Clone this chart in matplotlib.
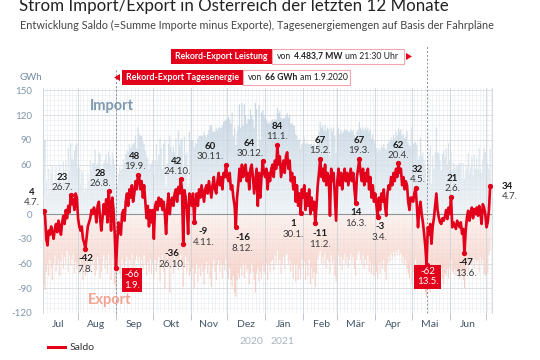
import numpy as np
import pandas as pd
import matplotlib
matplotlib.use("Agg")
import matplotlib.pyplot as plt
import matplotlib.dates as mdates
import matplotlib.transforms as mtransforms
from matplotlib.patches import Rectangle, Polygon, PathPatch
from matplotlib.path import Path
from matplotlib.lines import Line2D
from matplotlib.colors import LinearSegmentedColormap

plt.rcParams['font.family'] = ['Lato', 'DejaVu Sans']

# daily saldo (import minus export), GWh, 4.7.2020 - 4.7.2021
saldo_jul20 = [4, -2, -30, -38, -20, -25, -15, -22, -30, -18, -12, -22, -8, -15,
               -25, -10, -2, -12, 5, -5, 10, 2, 23, 12, 18, 5, 25, 20]
saldo_aug20 = [-5, -15, -20, -15, -30, -35, -42, -28, -15, -10, -5, 5, 0, 8, 3, -10,
               10, 15, -5, -20, -5, 12, 0, 18, -10, 28, 10, -20, 20, 5, -25]
saldo_sep20 = [-66, -35, -10, -15, -25, 0, 5, -8, 15, 25, 10, 30, 20, 35, 15, 25,
               40, 30, 48, 45, 30, 40, 20, 35, 15, -5, 10, -15, 5, -10]
saldo_okt20 = [5, -30, 10, 15, 5, 20, 10, 18, 5, 15, 0, -24, 10, 25, 0, 15, 20, 10,
               25, 30, 15, 33, 25, 42, 30, -36, 29, 20, 5, -24, 25]
saldo_nov20 = [20, 10, 25, -9, 15, 25, 10, 30, 20, 35, 25, 15, 30, 35, 25, 40, 30,
               20, 35, 45, 30, 25, 40, 50, 35, 45, 30, 50, 45, 60]
saldo_dez20 = [45, 40, 50, 30, 35, 20, 10, -16, 20, 35, 55, 40, 60, 45, 55, 60, 40,
               50, 30, 55, 60, 45, 25, 40, 55, 10, 50, 20, 45, 64, 50]
saldo_jan21 = [45, 55, 30, 50, 40, 55, 60, 45, 65, 55, 84, 60, 70, 45, 55, 65, 50,
               70, 75, 55, 65, 40, 50, 30, 45, 15, 35, 10, 25, 1, 30]
saldo_feb21 = [20, 35, 5, 25, 10, 30, 0, 20, 5, 15, -11, 10, 35, 50, 67, 45, 55, 40,
               60, 35, 50, 45, -2, 55, 40, 50, 20, -8]
saldo_mar21 = [40, 55, 35, 50, 30, 45, 55, 40, 50, 35, 45, 55, 40, 50, 30, 14, 45,
               55, 67, 50, 40, 55, 35, 50, 40, 55, 30, 45, 20, 35, 15]
saldo_apr21 = [25, 10, -3, 20, 5, 25, 15, 30, 10, -2, 25, 35, 30, 45, 35, 50, 40,
               55, 45, 62, 50, 55, 35, 45, 30, 40, 35, 15, 5, 20]
saldo_mai21 = [20, 15, 25, 32, 12, -16, 5, 15, 0, -10, -24, -40, -62, -16, -25, -12,
               -36, -15, -5, 10, 25, 5, -4, -10, -12, -5, -8, -3, 5, -6, 8]
saldo_jun21 = [0, 21, -16, -10, -14, -18, -8, -12, -16, -10, -24, -18, -47, -20, -4,
               4, -8, 2, 8, -5, 6, 0, 8, -2, 10, 2, -12, 12, 8, 0]
saldo_jul21 = [-16, -10, 5, 34]

# daily export, GWh
exp_jul20 = [85, 92, 70, 60, 75, 55, 65, 80, 60, 50, 70, 62, 55, 75, 58, 48, 66, 52,
             60, 45, 70, 50, 63, 55, 48, 72, 58, 66]
exp_aug20 = [60, 72, 55, 68, 80, 62, 75, 58, 65, 50, 70, 48, 62, 55, 75, 68, 52, 60,
             78, 70, 58, 50, 66, 55, 72, 48, 60, 80, 55, 62, 85]
exp_sep20 = [92, 70, 60, 72, 78, 55, 62, 70, 58, 52, 66, 55, 60, 48, 70, 62, 55, 50,
             58, 52, 65, 55, 68, 50, 62, 75, 58, 70, 55, 72]
exp_okt20 = [60, 78, 55, 70, 58, 52, 82, 62, 50, 70, 90, 58, 52, 60, 95, 66, 55, 72,
             50, 62, 55, 68, 58, 48, 62, 88, 65, 52, 70, 58, 75]
exp_nov20 = [70, 80, 65, 90, 72, 60, 82, 65, 75, 60, 70, 85, 66, 58, 72, 62, 78, 88,
             65, 55, 70, 80, 62, 55, 70, 60, 78, 62, 68, 55]
exp_dez20 = [70, 78, 65, 80, 88, 75, 95, 100, 80, 72, 78, 65, 75, 62, 78, 60, 70, 66,
             85, 72, 60, 70, 80, 95, 72, 65, 82, 70, 78, 62, 70]
exp_jan21 = [72, 60, 80, 62, 70, 58, 55, 68, 50, 60, 45, 62, 55, 72, 60, 52, 66, 50,
             48, 62, 55, 70, 60, 78, 62, 82, 60, 80, 66, 78, 55]
exp_feb21 = [66, 58, 80, 62, 75, 55, 85, 65, 78, 70, 88, 72, 55, 50, 45, 60, 52, 62,
             48, 66, 55, 58, 72, 50, 60, 55, 75, 82]
exp_mar21 = [60, 50, 62, 52, 68, 55, 48, 62, 52, 65, 55, 48, 60, 52, 66, 75, 55, 48,
             45, 55, 62, 50, 66, 55, 62, 50, 70, 58, 72, 62, 75]
exp_apr21 = [62, 70, 78, 60, 72, 58, 66, 55, 70, 80, 60, 52, 58, 48, 55, 46, 52, 45,
             50, 42, 50, 48, 60, 52, 62, 55, 66, 72, 78, 62]
exp_mai21 = [85, 70, 62, 55, 72, 82, 65, 78, 70, 85, 90, 95, 100, 88, 80, 95, 72, 85,
             60, 66, 80, 70, 78, 75, 65, 78, 85, 72, 75, 66, 78]
exp_jun21 = [65, 55, 70, 72, 66, 75, 68, 70, 78, 72, 66, 80, 90, 72, 62, 70, 58, 55,
             62, 52, 66, 55, 60, 56, 70, 52, 62, 55, 72, 75]
exp_jul21 = [60, 72, 50, 45]

months = ["Jul", "Aug", "Sep", "Okt", "Nov", "Dez", "Jän", "Feb", "Mär", "Apr", "Mai", "Jun"]
yticks = [-120, -90, -60, -30, 0, 30, 60, 90, 120, 150]
ytick_labels = ["-120", "-90", "-60", "-30", "0", "", "60", "90", "120", "150"]

# labelled extremes
ann_dates = ["2020-07-04", "2020-07-26", "2020-08-07", "2020-08-26", "2020-09-19",
             "2020-10-24", "2020-10-26", "2020-11-04", "2020-11-30", "2020-12-08",
             "2020-12-30", "2021-01-11", "2021-01-30", "2021-02-11", "2021-02-15",
             "2021-03-16", "2021-03-19", "2021-04-03", "2021-04-20", "2021-05-04",
             "2021-06-02", "2021-06-13", "2021-07-04"]
ann_text = ["4.7.", "26.7.", "7.8.", "26.8.", "19.9.", "24.10.", "26.10.", "4.11.",
            "30.11.", "8.12.", "30.12.", "11.1.", "30.1.", "11.2.", "15.2.", "16.3.",
            "19.3.", "3.4.", "20.4.", "4.5.", "2.6.", "13.6.", "4.7."]
rec_dates = ["2020-09-01", "2021-05-13"]
rec_text = ["1.9.", "13.5."]

saldo = np.array(saldo_jul20 + saldo_aug20 + saldo_sep20 + saldo_okt20 + saldo_nov20
                 + saldo_dez20 + saldo_jan21 + saldo_feb21 + saldo_mar21 + saldo_apr21
                 + saldo_mai21 + saldo_jun21 + saldo_jul21, float)
export = np.array(exp_jul20 + exp_aug20 + exp_sep20 + exp_okt20 + exp_nov20 + exp_dez20
                  + exp_jan21 + exp_feb21 + exp_mar21 + exp_apr21 + exp_mai21 + exp_jun21
                  + exp_jul21, float)
imports = saldo + export
days = pd.date_range("2020-07-04", "2021-07-04", freq="D")
x = mdates.date2num(days)
val = pd.Series(saldo, index=days)

RED = "#e2001a"
W, H = 540, 360


def fx(px):
    return px / W


def fy(py):
    return 1 - py / H


fig = plt.figure(figsize=(5.4, 3.6), dpi=100)
ax = fig.add_axes([fx(43), fy(313), 449 / W, 225 / H])
x0 = mdates.date2num(pd.Timestamp("2020-07-03 08:00"))
x1 = mdates.date2num(pd.Timestamp("2021-07-05 12:00"))
renderer = fig.canvas.get_renderer()


def gradient_bars(heights, c_base, c_tip, lim):
    verts = []
    for xi, h in zip(x, heights):
        verts.append(Path([(xi - 0.45, 0), (xi + 0.45, 0), (xi + 0.45, h),
                           (xi - 0.45, h), (xi - 0.45, 0)], closed=True))
    patch = PathPatch(Path.make_compound_path(*verts), transform=ax.transData,
                      fc="none", ec="none")
    ax.add_patch(patch)
    cmap = LinearSegmentedColormap.from_list("g", [c_base, c_tip])
    grad = np.linspace(0, 1, 256).reshape(-1, 1)
    if lim < 0:
        grad = grad[::-1]
    im = ax.imshow(grad, extent=[x0, x1, min(0, lim), max(0, lim)], origin="lower",
                   aspect="auto", cmap=cmap, zorder=1, alpha=0.85, interpolation="bilinear")
    im.set_clip_path(patch)


gradient_bars(imports, "#edf2f6", "#b4c8da", 150)
gradient_bars(-export, "#fcefeb", "#f3b9ab", -110)

# fine grid
for v in np.arange(-120, 153, 6):
    ax.axhline(v, color="#eceef1", lw=0.5, zorder=0)
for v in yticks:
    ax.axhline(v, color="#d9dde2", lw=0.6, zorder=0.2)
for d in np.arange(x0, x1, 3):
    ax.axvline(d, color="#eceef1", lw=0.5, zorder=0)
month_starts = pd.date_range("2020-08-01", "2021-07-01", freq="MS")
for m in month_starts:
    ax.axvline(mdates.date2num(m), color="#cdd3d9", lw=0.6, zorder=1.5)
ax.axhline(0, color="#8d949b", lw=0.8, zorder=3)

ax.plot(x, saldo, color=RED, lw=1.9, zorder=4, solid_joinstyle="round")

ax.set_xlim(x0, x1)
ax.set_ylim(-120, 153)
ax.set_yticks(yticks)
ax.set_yticklabels(ytick_labels)
ax.tick_params(axis="y", length=0, labelsize=7, labelcolor="#8196ab", pad=8)
ax.set_xticks(mdates.date2num(month_starts))
ax.tick_params(axis="x", which="major", length=5, width=0.6, color="#b3bac2",
               labelbottom=False)
mids = pd.date_range("2020-07-01", "2021-06-01", freq="MS") + pd.Timedelta(days=15)
ax.set_xticks(mdates.date2num(mids), minor=True)
ax.set_xticklabels(months, minor=True)
ax.tick_params(axis="x", which="minor", length=0, labelsize=7.5, labelcolor="#44566a", pad=5)
for s in ["top", "bottom"]:
    ax.spines[s].set_visible(False)
for s in ["left", "right"]:
    ax.spines[s].set_color("#d0d5da")
    ax.spines[s].set_linewidth(0.6)

# annotations: (dx px, side)
ann_style = [(-12, "up"), (-8, "up"), (0, "dn"), (-8, "up"), (-3, "up"), (-4, "up"),
             (-11, "dn"), (9, "dn"), (-16, "up"), (7, "dn"), (-13, "up"), (0, "up"),
             (-7, "dn"), (5, "dn"), (0, "up"), (0, "dn"), (0, "up"), (2, "dn"),
             (0, "up"), (2, "up"), (1, "up"), (1, "dn"), (12, "rt")]
for d, lab, (dx, side) in zip(ann_dates, ann_text, ann_style):
    t = pd.Timestamp(d)
    xv, yv = mdates.date2num(t), val[t]
    ax.plot(xv, yv, "o", color=RED, ms=2.8, zorder=5)
    if side == "up":
        dv, dd = 18, 8
    elif side == "dn":
        dv, dd = -10, -21
    else:
        dv, dd = 0, -10
    ha = "left" if side == "rt" else "center"
    ax.annotate("%d" % yv, (xv, yv), xytext=(dx, dv), textcoords="offset pixels",
                ha=ha, va="center", fontsize=7, fontweight="bold", color="#1a1a1a",
                annotation_clip=False, zorder=6)
    ax.annotate(lab, (xv, yv), xytext=(dx, dd), textcoords="offset pixels",
                ha=ha, va="center", fontsize=7, color="#3a3a3a",
                annotation_clip=False, zorder=6)

for d, lab, dx in zip(rec_dates, rec_text, [16, 1]):
    t = pd.Timestamp(d)
    xv, yv = mdates.date2num(t), val[t]
    ax.plot(xv, yv, "o", color=RED, ms=2.8, zorder=5)
    ax.annotate("%d\n%s" % (yv, lab), (xv, yv), xytext=(dx, -2), textcoords="offset pixels",
                ha="center", va="top", fontsize=7, color="white", linespacing=1.15,
                bbox=dict(boxstyle="square,pad=0.25", fc=RED, ec="none"), zorder=6)

# dashed record markers
trans = mtransforms.blended_transform_factory(ax.transData, ax.transAxes)
for d, top in zip(rec_dates, [(313 - 69) / 225, (313 - 46) / 225]):
    xv = mdates.date2num(pd.Timestamp(d))
    ax.plot([xv, xv], [0, top], transform=trans, clip_on=False, color="#8a9096",
            lw=0.7, ls=(0, (2, 2)), zorder=2)


def fitted_text(px, py, s, width, **kw):
    t = fig.text(fx(px), fy(py), s, fontsize=10, **kw)
    t.set_fontsize(10 * width / t.get_window_extent(renderer).width)
    return t


def rich(px, py, parts, width):
    gap = 2.5
    size = 10
    total = 0
    for s, w in parts:
        t = fig.text(0, 0, s, fontsize=size, fontweight=w)
        total += t.get_window_extent(renderer).width
        t.remove()
    size = size * (width - gap * (len(parts) - 1)) / total
    for s, w in parts:
        t = fig.text(fx(px), fy(py), s, fontsize=size, fontweight=w, color="#222222",
                     va="center", ha="left")
        px += t.get_window_extent(renderer).width + gap


def record_box(xr0, xr1, xw1, yc, red_txt, red_w, parts, parts_w, arrow_right):
    h = 15
    fig.patches.append(Rectangle((fx(xr0), fy(yc + h / 2)), (xr1 - xr0) / W, h / H,
                                 transform=fig.transFigure, fc=RED, ec="none"))
    fig.patches.append(Rectangle((fx(xr1), fy(yc + h / 2)), (xw1 - xr1) / W, h / H,
                                 transform=fig.transFigure, fc="white", ec="#f2a7b0", lw=0.8))
    fitted_text((xr0 + xr1) / 2, yc, red_txt, red_w, color="white", fontweight="bold",
                ha="center", va="center")
    rich(xr1 + 5, yc, parts, parts_w)
    if arrow_right:
        tri = [(fx(xw1 + 2), fy(yc - 3.5)), (fx(xw1 + 2), fy(yc + 3.5)), (fx(xw1 + 8), fy(yc))]
    else:
        tri = [(fx(xr0 - 2), fy(yc - 3.5)), (fx(xr0 - 2), fy(yc + 3.5)), (fx(xr0 - 8), fy(yc))]
    fig.patches.append(Polygon(tri, closed=True, transform=fig.transFigure, fc=RED, ec="none"))


record_box(171, 272, 404, 56.5, "Rekord-Export Leistung", 93,
           [("von", "normal"), ("4.483,7 MW", "bold"), ("um 21:30 Uhr", "normal")], 121, True)
record_box(122, 243, 350, 77.5, "Rekord-Export Tagesenergie", 114,
           [("von", "normal"), ("66 GWh", "bold"), ("am 1.9.2020", "normal")], 100, False)

fitted_text(19, 11, "Strom Import/Export in Österreich der letzten 12 Monate", 428,
            color="#222222", va="baseline", ha="left")
fitted_text(20, 25, "Entwicklung Saldo (=Summe Importe minus Exporte), "
            "Tagesenergiemengen auf Basis der Fahrpläne", 473, color="#444444",
            va="center", ha="left")
fig.text(fx(20), fy(77), "GWh", fontsize=7, color="#6f87a0", va="center", ha="left")
fig.text(fx(112), fy(106), "Import", fontsize=10.5, fontweight="bold", color="#7f99ae",
         ha="center", va="center")
fig.text(fx(110), fy(300), "Export", fontsize=10.5, fontweight="bold", color="#f4a293",
         ha="center", va="center")
fig.text(fx(251), fy(342), "2020", fontsize=7.5, color="#a9b4bf", ha="center", va="center")
fig.text(fx(282), fy(342), "2021", fontsize=7.5, color="#a9b4bf", ha="center", va="center")
fig.add_artist(Line2D([fx(48), fx(65)], [fy(347), fy(347)], color=RED, lw=2.2))
fig.text(fx(70), fy(347), "Saldo", fontsize=7.5, color="#333333", va="center", ha="left")

fig.savefig("out.png", dpi=100)
